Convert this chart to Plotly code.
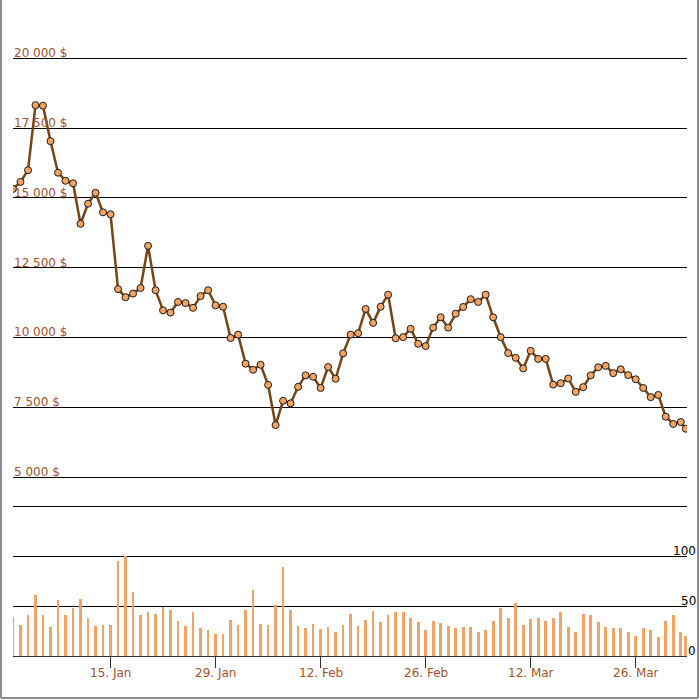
import plotly.graph_objects as go
import pandas as pd

# ---- data ----
dates = list(pd.date_range("2018-01-02", "2018-04-01", freq="D")) + [pd.Timestamp("2018-04-01 16:00")]

prices = [
    15320, 15570, 15990, 18320, 18300, 17030, 15900, 15610, 15520, 14070,
    14790, 15180, 14480, 14410, 11730, 11440, 11570, 11770, 13280, 11690,
    10970, 10890, 11270, 11230, 11060, 11480, 11690, 11150, 11100, 9980,
    10100, 9060, 8840, 9020, 8300, 6860, 7730, 7640, 8230, 8640,
    8590, 8190, 8940, 8520, 9430, 10100, 10150, 11020, 10520, 11100,
    11530, 9970, 10010, 10310, 9770, 9690, 10350, 10720, 10350, 10850,
    11090, 11370, 11270, 11530, 10720, 10010, 9440, 9270, 8890, 9520,
    9230, 9230, 8310, 8360, 8530, 8050, 8220, 8640, 8930, 8980,
    8720, 8860, 8650, 8500, 8190, 7860, 7940, 7160, 6900, 6970,
    6730,
]

volumes = [
    39, 31, 41, 61, 41, 29, 56, 41, 48, 57,
    38, 30, 31, 31, 95, 100, 64, 41, 44, 42,
    49, 46, 35, 30, 44, 28, 26, 22, 22, 36,
    31, 46, 66, 32, 31, 51, 89, 46, 30, 28,
    32, 27, 29, 24, 31, 42, 30, 36, 45, 34,
    41, 44, 44, 38, 34, 26, 35, 33, 30, 28,
    29, 29, 24, 26, 35, 48, 38, 53, 31, 37,
    38, 35, 38, 44, 29, 24, 42, 41, 34, 29,
    28, 28, 24, 20, 28, 26, 19, 35, 41, 24,
    20,
]

price_ticks = [5000, 7500, 10000, 12500, 15000, 17500, 20000]
volume_ticks = [0, 50, 100, 150]
volume_labels = [0, 50, 100]
x_tick_dates = ["2018-01-15", "2018-01-29", "2018-02-12", "2018-02-26", "2018-03-12", "2018-03-26"]
x_tick_text = ["15. Jan", "29. Jan", "12. Feb", "26. Feb", "12. Mar", "26. Mar"]

# ---- style ----
BROWN_TXT = "#a0522d"
LINE = "#764515"
MARK = "#f4a460"
BAR = "#f2a467"
FONT = "DejaVu Sans"

fig = go.Figure()
fig.add_trace(go.Scatter(
    x=dates, y=prices, mode="lines+markers",
    line=dict(color=LINE, width=2.5),
    marker=dict(size=7, color=MARK, line=dict(color="#1a1a1a", width=1)),
    xaxis="x", yaxis="y", hoverinfo="skip",
))
fig.add_trace(go.Bar(
    x=dates, y=volumes, marker=dict(color=BAR, line=dict(width=0)),
    width=0.36 * 86400000, xaxis="x", yaxis="y2", hoverinfo="skip",
))

annotations = []
for v in price_ticks:
    annotations.append(dict(
        x=0, xref="paper", y=v, yref="y", xanchor="left", yanchor="bottom",
        text=f"{v:,}".replace(",", " ") + " $", showarrow=False,
        font=dict(family=FONT, size=12, color=BROWN_TXT), borderpad=0, yshift=-3,
    ))
for v in volume_labels:
    annotations.append(dict(
        x=1.0148, xref="paper", y=v, yref="y2", xanchor="right", yanchor="bottom",
        text=str(v), showarrow=False,
        font=dict(family=FONT, size=12, color="#000000"), borderpad=0, yshift=-3,
    ))
for d, t in zip(x_tick_dates, x_tick_text):
    annotations.append(dict(
        x=d, xref="x", y=0, yref="paper", xanchor="center", yanchor="middle",
        text=t, showarrow=False,
        font=dict(family=FONT, size=12, color=BROWN_TXT), borderpad=0, yshift=-17,
    ))

border = dict(color="#8c8c8c", width=2)
shapes = [
    dict(type="line", xref="paper", yref="paper", x0=-0.0178, x1=-0.0178, y0=-0.07, y1=1.1, line=border),
    dict(type="line", xref="paper", yref="paper", x0=1.0163, x1=1.0163, y0=-0.07, y1=1.1, line=border),
    dict(type="line", xref="paper", yref="paper", x0=-0.0178, x1=1.0163, y0=-0.07, y1=-0.07, line=border),
]

fig.update_layout(
    width=700, height=700,
    margin=dict(l=13, r=13, t=56, b=44, autoexpand=False),
    paper_bgcolor="white", plot_bgcolor="white",
    showlegend=False, bargap=0,
    font=dict(family=FONT, size=12, color=BROWN_TXT),
    xaxis=dict(
        type="date", anchor="y2", domain=[0, 1],
        range=["2018-01-02 00:00", "2018-04-01 20:00"],
        showgrid=False, zeroline=False,
        showline=True, linecolor="#333333", linewidth=1,
        ticks="outside", ticklen=11, tickcolor="#333333", tickwidth=1,
        tickmode="array", tickvals=x_tick_dates, ticktext=x_tick_text,
        showticklabels=False,
    ),
    yaxis=dict(
        domain=[0.2946, 1.0], range=[4920, 20080],
        tickmode="array", tickvals=price_ticks, showticklabels=False,
        showgrid=True, gridcolor="#000000", gridwidth=1, zeroline=False, ticks="",
    ),
    yaxis2=dict(
        domain=[0, 0.2533], range=[0, 152],
        tickmode="array", tickvals=volume_ticks, showticklabels=False,
        showgrid=True, gridcolor="#000000", gridwidth=1, zeroline=False, ticks="",
    ),
    annotations=annotations,
    shapes=shapes,
)

fig.write_html(
    "out.html",
    config={"displayModeBar": False},
    post_script="document.body.style.margin='0px';",
)
